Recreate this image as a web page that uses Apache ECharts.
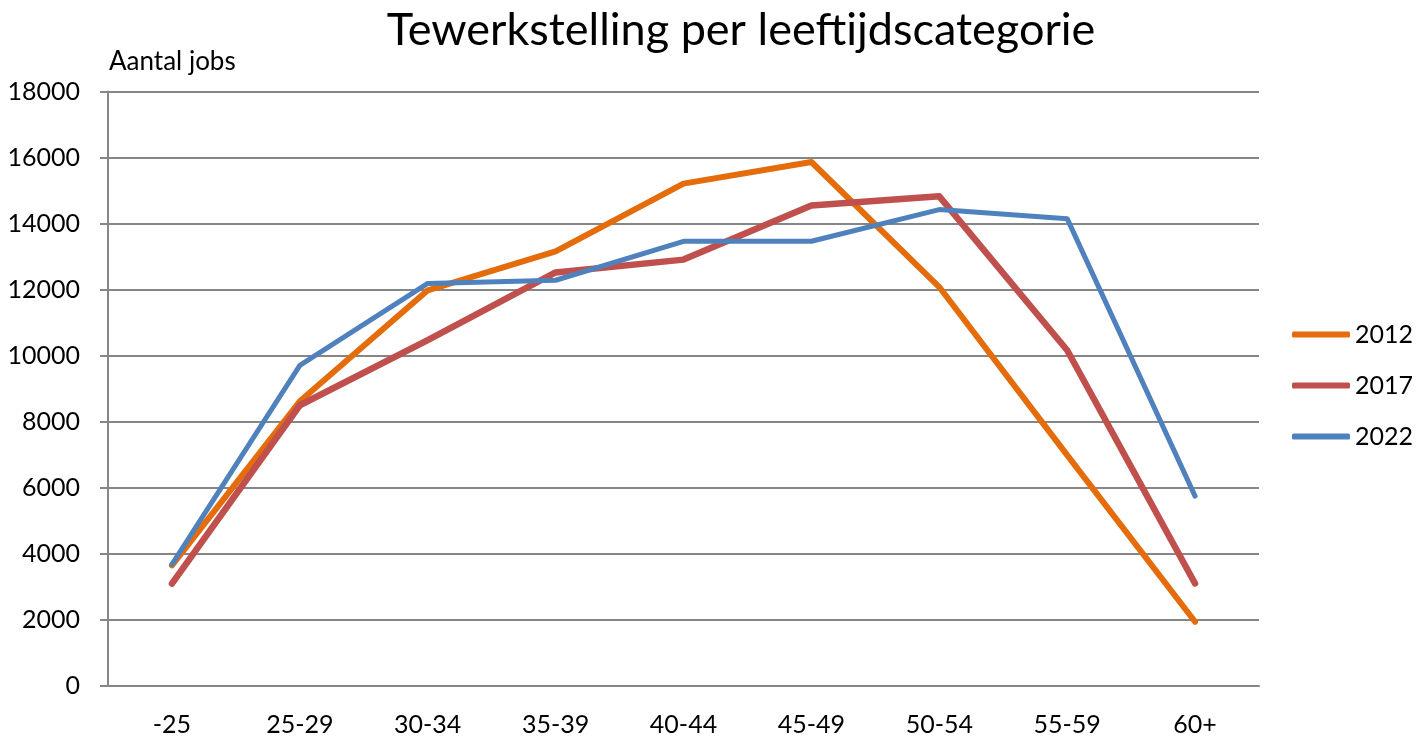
<!DOCTYPE html>
<html>
<head>
<meta charset="utf-8">
<script src="https://cdn.jsdelivr.net/npm/echarts@6/dist/echarts.min.js"></script>
<style>
  html, body { margin: 0; padding: 0; background: #fff; }
  #chart { width: 1416px; height: 741px; }
</style>
</head>
<body>
<div id="chart"></div>
<script>
// leeftijdscategorieën
const categories = ['-25', '25-29', '30-34', '35-39', '40-44', '45-49', '50-54', '55-59', '60+'];

// aantal jobs per jaar
const jobs2012 = [3650, 8620, 11980, 13160, 15210, 15865, 12080, 6990, 1945];
const jobs2017 = [3100, 8500, 10470, 12520, 12910, 14550, 14825, 10165, 3105];
const jobs2022 = [3680, 9710, 12190, 12285, 13465, 13465, 14425, 14150, 5750];

const yTicks = { min: 0, max: 18000, interval: 2000 };

const font = 'Lato, "Open Sans", sans-serif';
const gray = '#868686';

let myChart = echarts.init(document.getElementById('chart'));

function lineSerie(name, data, color, width) {
  return {
    name: name,
    type: 'line',
    data: data,
    symbol: 'none',
    lineStyle: { color: color, width: width, cap: 'round', join: 'round' },
    itemStyle: { color: color }
  };
}

myChart.setOption({
  animation: false,
  title: [
    {
      text: 'Tewerkstelling per leeftijdscategorie',
      left: 736, textAlign: 'center', top: 3,
      textStyle: { fontFamily: font, fontSize: 45, fontWeight: 'normal', color: '#000' }
    },
    {
      text: 'Aantal jobs',
      left: 104, top: 44,
      textStyle: { fontFamily: font, fontSize: 26, fontWeight: 'normal', color: '#000' }
    }
  ],
  legend: {
    orient: 'vertical',
    left: 1287, top: 317,
    itemWidth: 58, itemHeight: 6,
    itemGap: 26,
    icon: 'roundRect',
    textStyle: { fontFamily: font, fontSize: 25, color: '#000' },
    data: ['2012', '2017', '2022']
  },
  grid: {
    left: 108, right: 157, top: 91.5, bottom: 55,
    outerBoundsMode: 'none'
  },
  xAxis: {
    type: 'category',
    data: categories,
    boundaryGap: true,
    axisLine: { lineStyle: { color: gray, width: 2 } },
    axisTick: { length: 8, lineStyle: { color: gray, width: 2 } },
    axisLabel: { margin: 26, fontFamily: font, fontSize: 25, color: '#000' },
    splitLine: { show: false }
  },
  yAxis: {
    type: 'value',
    min: yTicks.min, max: yTicks.max, interval: yTicks.interval,
    axisLine: { show: true, lineStyle: { color: gray, width: 2 } },
    axisTick: { show: true, length: 8, lineStyle: { color: gray, width: 2 } },
    axisLabel: {
      margin: 28, fontFamily: font, fontSize: 25, color: '#000',
      formatter: function (v) { return String(v); }
    },
    splitLine: { lineStyle: { color: gray, width: 2 } }
  },
  series: [
    lineSerie('2012', jobs2012, '#E46C0A', 6),
    lineSerie('2017', jobs2017, '#C0504D', 6.5),
    lineSerie('2022', jobs2022, '#4F81BD', 5)
  ]
});
</script>
</body>
</html>
